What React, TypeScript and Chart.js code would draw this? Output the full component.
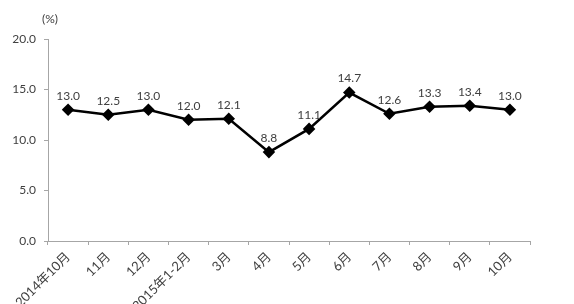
import React, { useEffect, useRef } from "react";
import { Chart, registerables } from "chart.js";

Chart.register(...registerables);

const categories = ["2014年10月", "11月", "12月", "2015年1-2月", "3月", "4月", "5月", "6月", "7月", "8月", "9月", "10月"];
const values = [13.0, 12.5, 13.0, 12.0, 12.1, 8.8, 11.1, 14.7, 12.6, 13.3, 13.4, 13.0];
const yTicks = [0, 5, 10, 15, 20];
const unitLabel = "(%)";

const FONT = "Lato, 'Noto Sans CJK SC', sans-serif";
const TEXT = "#404040";
const AXIS = "#a6a6a6";

const labelPlugin = {
  id: "labels",
  afterDatasetsDraw(chart: any) {
    const ctx = chart.ctx;
    const meta = chart.getDatasetMeta(0);
    ctx.save();
    ctx.font = `12px ${FONT}`;
    ctx.fillStyle = TEXT;
    ctx.textAlign = "center";
    ctx.textBaseline = "bottom";
    meta.data.forEach((pt: any, i: number) => {
      ctx.fillText(values[i].toFixed(1), pt.x, pt.y - 8);
    });
    const area = chart.chartArea;
    ctx.textAlign = "center";
    ctx.textBaseline = "middle";
    ctx.fillText(unitLabel, area.left + 2, area.top - 20);
    ctx.restore();
  },
};

export default function App() {
  const ref = useRef<HTMLCanvasElement>(null);
  useEffect(() => {
    document.body.style.margin = "0";
    const chart = new Chart(ref.current!, {
      type: "line",
      data: {
        labels: categories,
        datasets: [
          {
            data: values,
            borderColor: "#000",
            backgroundColor: "#000",
            borderWidth: 2.5,
            pointStyle: "rectRot",
            pointRadius: 4.5,
            pointBackgroundColor: "#000",
            pointBorderColor: "#000",
            tension: 0,
          },
        ],
      },
      options: {
        animation: false,
        responsive: false,
        maintainAspectRatio: false,
        layout: { padding: { top: 39, right: 44, left: 0, bottom: 0 } },
        plugins: { legend: { display: false }, tooltip: { enabled: false } },
        scales: {
          x: {
            type: "category",
            offset: true,
            grid: { display: true, drawOnChartArea: false, drawTicks: true, tickLength: 4, color: AXIS, offset: true },
            border: { display: true, color: AXIS, width: 1 },
            ticks: { minRotation: 45, maxRotation: 45, autoSkip: false, color: TEXT, font: { family: FONT, size: 13 }, padding: 4 },
            afterFit: (s: any) => { s.height = 63; },
          },
          y: {
            min: 0,
            max: 20,
            afterBuildTicks: (s: any) => { s.ticks = yTicks.map((v) => ({ value: v })); },
            grid: { display: true, drawOnChartArea: false, drawTicks: true, tickLength: 4, color: AXIS },
            border: { display: true, color: AXIS, width: 1 },
            ticks: { color: TEXT, font: { family: FONT, size: 12 }, padding: 8, callback: (v: any) => Number(v).toFixed(1) },
            afterFit: (s: any) => { s.width = 48; },
          },
        },
      },
      plugins: [labelPlugin],
    });
    return () => chart.destroy();
  }, []);
  return (
    <div style={{ width: 574, height: 304, position: "relative" }}>
      <canvas ref={ref} width={574} height={304} style={{ width: 574, height: 304, display: "block" }} />
    </div>
  );
}
